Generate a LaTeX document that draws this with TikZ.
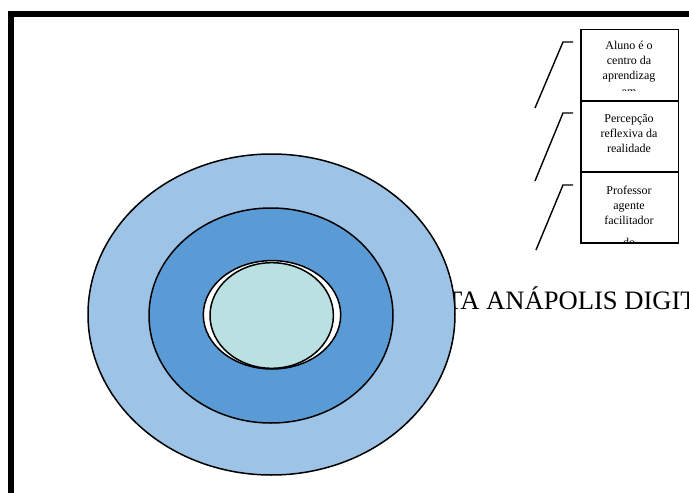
\documentclass[tikz,border=0pt]{standalone}
\usepackage{fontspec}
\setmainfont{Liberation Serif}
\definecolor{outerblue}{HTML}{9DC3E6}
\definecolor{midblue}{HTML}{5B9BD5}
\definecolor{innercyan}{HTML}{BAE0E2}
\begin{document}
\begin{tikzpicture}[x=1pt,y=-1pt,
  ring/.style={draw=black,line width=1.5pt},
  box/.style={draw=black,line width=1.6pt,minimum width=97.6pt,minimum height=71.2pt,inner sep=0pt},
  callout/.style={draw=black,line width=1.4pt},
  boxtext/.style={anchor=base,inner sep=0pt,font=\fontsize{12}{14}\selectfont}]
\useasboundingbox (0,0) rectangle (689,493);
\clip (0,0) rectangle (689,493);
% frame
\draw[line width=6.6pt,miter limit=10] (11,560) -- (11,13.8) -- (760,13.8);
% title text partly hidden behind circles
\node[anchor=base west,inner sep=0pt,font=\fontsize{26.6}{30}\selectfont] (title) at (446,309) {TA ANÁPOLIS DIGIT};
% concentric ellipses
\draw[ring,fill=outerblue] (271.5,314.5) ellipse [x radius=183.5, y radius=160.5];
\draw[ring,fill=midblue] (271,315.5) ellipse [x radius=122, y radius=107.5];
\draw[ring,fill=white] (272,314.8) ellipse [x radius=68.7, y radius=54.2];
\draw[ring,fill=innercyan] (271.7,315.5) ellipse [x radius=61.7, y radius=52.8];
% boxes
\node[box] (b1) at (629.5,65) {};
\node[box] (b2) at (629.5,136.4) {};
\node[box] (b3) at (629.5,207.6) {};
% box texts (clipped)
\begin{scope}
\clip (581,31) rectangle (678,90);
\node[boxtext] (t1a) at (629,49.5) {Aluno é o};
\node[boxtext] (t1b) at (629,64.4) {centro da};
\node[boxtext] (t1c) at (629,79.3) {aprendizag};
\node[boxtext] (t1d) at (629,95.2) {em};
\end{scope}
\node[boxtext] (t2a) at (629,122.5) {Percepção};
\node[boxtext] (t2b) at (629,137.5) {reflexiva da};
\node[boxtext] (t2c) at (629,152.5) {realidade};
\begin{scope}
\clip (581,173) rectangle (678,241.5);
\node[boxtext] (t3a) at (629,194.4) {Professor};
\node[boxtext] (t3b) at (629,209.2) {agente};
\node[boxtext] (t3c) at (629,224) {facilitador};
\node[boxtext] (t3d) at (629,246.4) {do};
\end{scope}
% callout lines
\coordinate (c1a) at (535,108); \coordinate (c1b) at (563,42); \coordinate (c1c) at (573,42);
\coordinate (c2a) at (535,181); \coordinate (c2b) at (563,113); \coordinate (c2c) at (573,113);
\coordinate (c3a) at (536,250); \coordinate (c3b) at (563,185); \coordinate (c3c) at (573,185);
\draw[callout] (c1a) -- (c1b) -- (c1c);
\draw[callout] (c2a) -- (c2b) -- (c2c);
\draw[callout] (c3a) -- (c3b) -- (c3c);
\end{tikzpicture}
\end{document}
